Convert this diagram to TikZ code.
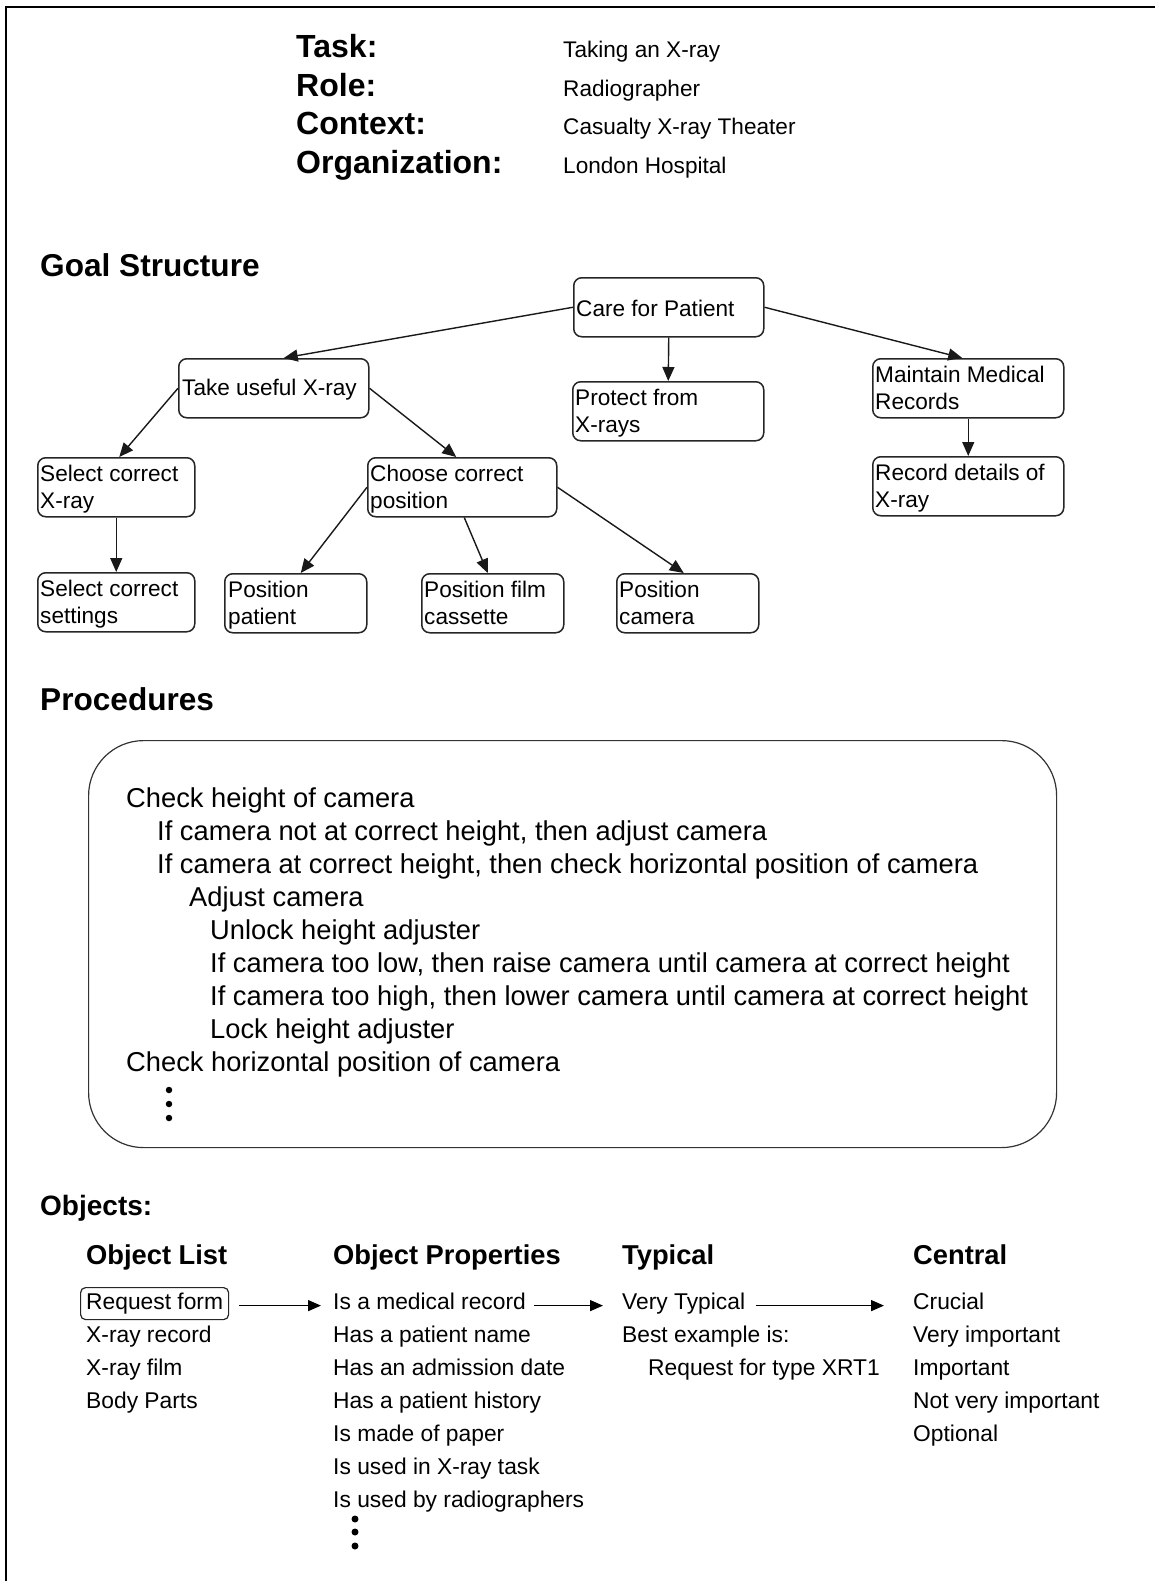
\documentclass[tikz,border=0pt]{standalone}
\usepackage{fontspec}
\setmainfont{Liberation Sans}
\usetikzlibrary{arrows.meta,calc}
\begin{document}
\begin{tikzpicture}[x=1pt,y=-1pt,
  frame/.style={line width=2.5pt, draw=black},
  hlabel/.style={anchor=base west, inner sep=0pt, font=\fontsize{32}{36}\selectfont\bfseries},
  hval/.style={anchor=base west, inner sep=0pt, font=\fontsize{22.6}{27}\selectfont},
  sechead/.style={anchor=base west, inner sep=0pt, font=\fontsize{31.6}{36}\selectfont\bfseries},
  colhead/.style={anchor=base west, inner sep=0pt, font=\fontsize{27.3}{32}\selectfont\bfseries},
  goalbox/.style={draw=black!85, line width=1.5pt, rounded corners=8pt, anchor=north west, inner sep=0pt, minimum width=#1, minimum height=59pt},
  gtext/.style={anchor=base west, inner sep=0pt, font=\fontsize{22.6}{27}\selectfont},
  garrow/.style={-{Triangle[length=14pt,width=12pt]}, line width=1.4pt, draw=black!90},
  proctext/.style={anchor=base west, inner sep=0pt, font=\fontsize{27.3}{33}\selectfont},
  objtext/.style={anchor=base west, inner sep=0pt, font=\fontsize{22.8}{27}\selectfont},
  oarrow/.style={-{Triangle[length=13pt,width=11pt]}, line width=1.4pt, draw=black},
  dotmark/.style={circle, fill=black, inner sep=0pt, minimum size=#1}
]
\useasboundingbox (0,0) rectangle (1155,1581);
\fill[white] (0,0) rectangle (1155,1581);
% frame
\draw[frame] (6,1581) -- (6,7) -- (1155,7);

% header
\node[hlabel] (tasklbl) at (296,58) {Task:};
\node[hlabel] (rolelbl) at (296,96.5) {Role:};
\node[hlabel] (ctxlbl) at (296,135) {Context:};
\node[hlabel] (orglbl) at (296,173.5) {Organization:};
\node[hval] (taskval) at (563,58) {Taking an X-ray};
\node[hval] (roleval) at (563,96.5) {Radiographer};
\node[hval] (ctxval) at (563,135) {Casualty X-ray Theater};
\node[hval] (orgval) at (563,173.5) {London Hospital};

% Goal structure
\node[sechead] (goalhd) at (40,276) {Goal Structure};

\node[goalbox=190pt] (care) at (573,277) {};
\node[gtext] (caret) at (576,316) {Care for Patient};

\node[goalbox=190pt] (take) at (178,358) {};
\node[gtext] (taket) at (182,395) {Take useful X-ray};

\node[goalbox=191pt] (protect) at (572,381) {};
\node[gtext] (protect1) at (575,405) {Protect from};
\node[gtext] (protect2) at (575,432) {X-rays};

\node[goalbox=191pt] (maintain) at (872,358) {};
\node[gtext] (maintain1) at (875,382) {Maintain Medical};
\node[gtext] (maintain2) at (875,409) {Records};

\node[goalbox=191pt] (record) at (872,456) {};
\node[gtext] (record1) at (875,480) {Record details of};
\node[gtext] (record2) at (875,507) {X-ray};

\node[goalbox=157pt] (selx) at (37,457) {};
\node[gtext] (selx1) at (40,481) {Select correct};
\node[gtext] (selx2) at (40,508) {X-ray};

\node[goalbox=189pt] (choose) at (367,457) {};
\node[gtext] (choose1) at (370,481) {Choose correct};
\node[gtext] (choose2) at (370,508) {position};

\node[goalbox=157pt] (sels) at (37,572) {};
\node[gtext] (sels1) at (40,596) {Select correct};
\node[gtext] (sels2) at (40,623) {settings};

\node[goalbox=142pt] (patient) at (224,573) {};
\node[gtext] (patient1) at (228,597) {Position};
\node[gtext] (patient2) at (228,624) {patient};

\node[goalbox=142pt] (cassette) at (421,573) {};
\node[gtext] (cassette1) at (424,597) {Position film};
\node[gtext] (cassette2) at (424,624) {cassette};

\node[goalbox=142pt] (camera) at (616,573) {};
\node[gtext] (camera1) at (619,597) {Position};
\node[gtext] (camera2) at (619,624) {camera};

\draw[garrow] (care.west) -- ([xshift=10pt]take.north);
\draw[garrow] (care.south) -- (protect.north);
\draw[garrow] (care.east) -- ([xshift=-6pt]maintain.north);
\draw[garrow] (maintain.south) -- (record.north);
\draw[garrow] (take.west) -- ([xshift=3pt]selx.north);
\draw[garrow] (take.east) -- ([xshift=-6pt]choose.north);
\draw[garrow] (selx.south) -- (sels.north);
\draw[garrow] (choose.west) -- ([xshift=5pt]patient.north);
\draw[garrow] ([xshift=2pt]choose.south) -- ([xshift=-5pt]cassette.north);
\draw[garrow] (choose.east) -- ([xshift=-4pt]camera.north);

% Procedures
\node[sechead] (prochd) at (40,710) {Procedures};
\node[draw=black!80, line width=1.2pt, rounded corners=55pt, anchor=north west, inner sep=0pt,
      minimum width=968pt, minimum height=407pt] (procbox) at (88,740) {};
\node[proctext] (p1) at (126,807) {Check height of camera};
\node[proctext] (p2) at (157,840) {If camera not at correct height, then adjust camera};
\node[proctext] (p3) at (157,873) {If camera at correct height, then check horizontal position of camera};
\node[proctext] (p4) at (189,906) {Adjust camera};
\node[proctext] (p5) at (210,939) {Unlock height adjuster};
\node[proctext] (p6) at (210,972) {If camera too low, then raise camera until camera at correct height};
\node[proctext] (p7) at (210,1005) {If camera too high, then lower camera until camera at correct height};
\node[proctext] (p8) at (210,1038) {Lock height adjuster};
\node[proctext] (p9) at (126,1071) {Check horizontal position of camera};
\node[dotmark=6.5pt] (pd1) at (169,1090) {};
\node[dotmark=6.5pt] (pd2) at (169,1104) {};
\node[dotmark=6.5pt] (pd3) at (169,1118) {};

% Objects
\node[sechead, font=\fontsize{28}{32}\selectfont\bfseries] (objhd) at (40,1215) {Objects:};
\node[colhead] (ch1) at (86,1264) {Object List};
\node[colhead] (ch2) at (333,1264) {Object Properties};
\node[colhead] (ch3) at (622,1264) {Typical};
\node[colhead] (ch4) at (913,1264) {Central};

\node[draw=black!85, line width=1.2pt, rounded corners=5pt, anchor=north west, inner sep=0pt,
      minimum width=148pt, minimum height=32pt] (reqbox) at (80,1287) {};
\node[objtext] (l1) at (86,1309) {Request form};
\node[objtext] (l2) at (86,1342) {X-ray record};
\node[objtext] (l3) at (86,1375) {X-ray film};
\node[objtext] (l4) at (86,1408) {Body Parts};

\node[objtext] (o1) at (333,1309) {Is a medical record};
\node[objtext] (o2) at (333,1342) {Has a patient name};
\node[objtext] (o3) at (333,1375) {Has an admission date};
\node[objtext] (o4) at (333,1408) {Has a patient history};
\node[objtext] (o5) at (333,1441) {Is made of paper};
\node[objtext] (o6) at (333,1474) {Is used in X-ray task};
\node[objtext] (o7) at (333,1507) {Is used by radiographers};
\node[dotmark=7pt] (od1) at (355,1519) {};
\node[dotmark=7pt] (od2) at (355,1532) {};
\node[dotmark=7pt] (od3) at (355,1546) {};

\node[objtext] (t1) at (622,1309) {Very Typical};
\node[objtext] (t2) at (622,1342) {Best example is:};
\node[objtext] (t3) at (648,1375) {Request for type XRT1};

\node[objtext] (c1) at (913,1309) {Crucial};
\node[objtext] (c2) at (913,1342) {Very important};
\node[objtext] (c3) at (913,1375) {Important};
\node[objtext] (c4) at (913,1408) {Not very important};
\node[objtext] (c5) at (913,1441) {Optional};

\draw[oarrow] ([xshift=10pt,yshift=-2pt]reqbox.east) -- ([xshift=-12pt,yshift=-2pt]reqbox.east -| o1.west);
\draw[oarrow] ([xshift=8pt,yshift=-2pt]reqbox.east -| o1.east) -- ([xshift=-19pt,yshift=-2pt]reqbox.east -| t1.west);
\draw[oarrow] ([xshift=11pt,yshift=-2pt]reqbox.east -| t1.east) -- ([xshift=-29pt,yshift=-2pt]reqbox.east -| c1.west);
\end{tikzpicture}
\end{document}
